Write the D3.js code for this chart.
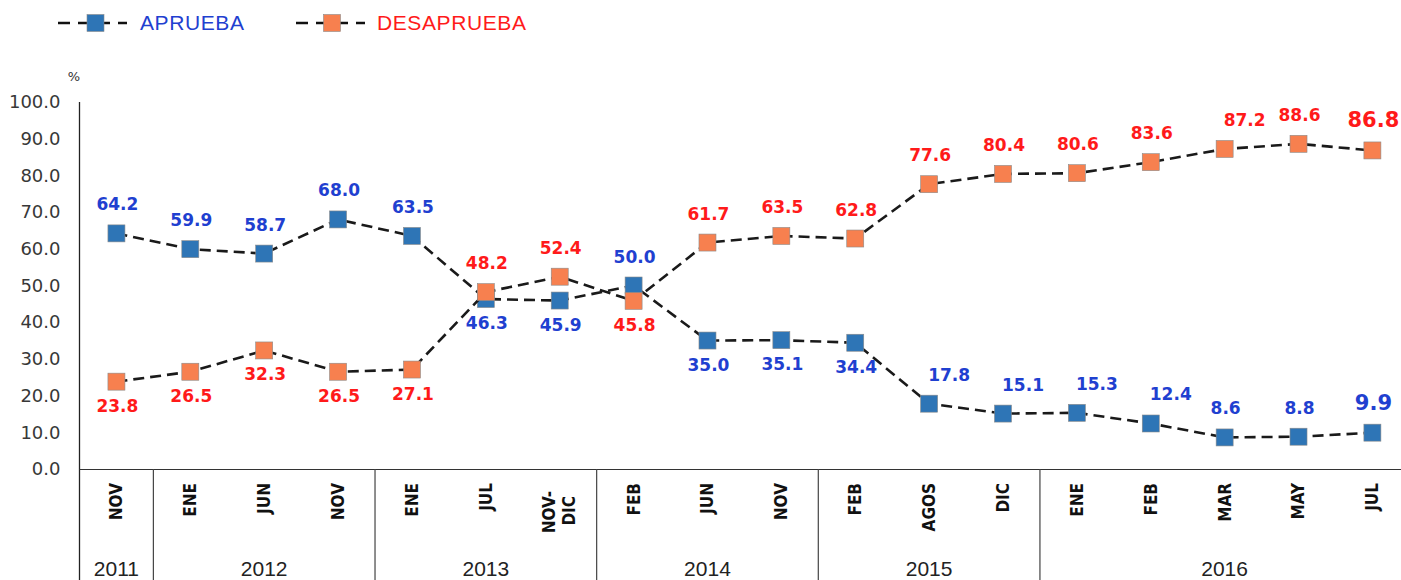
<!DOCTYPE html>
<html>
<head>
<meta charset="utf-8">
<script src="https://cdn.jsdelivr.net/npm/d3@7"></script>
<style>
  body { margin: 0; background: #fff; }
  svg { display: block; }
</style>
</head>
<body>
<svg id="chart"></svg>
<script>
const months = [`NOV`, `ENE`, `JUN`, `NOV`, `ENE`, `JUL`, `NOV-|DIC`, `FEB`, `JUN`, `NOV`, `FEB`, `AGOS`, `DIC`, `ENE`, `FEB`, `MAR`, `MAY`, `JUL`];
const years = [`2011`, `2012`, `2013`, `2014`, `2015`, `2016`];
const yearCounts = [1, 3, 3, 3, 3, 5];
const aprueba = [64.2, 59.9, 58.7, 68.0, 63.5, 46.3, 45.9, 50.0, 35.0, 35.1, 34.4, 17.8, 15.1, 15.3, 12.4, 8.6, 8.8, 9.9];
const desaprueba = [23.8, 26.5, 32.3, 26.5, 27.1, 48.2, 52.4, 45.8, 61.7, 63.5, 62.8, 77.6, 80.4, 80.6, 83.6, 87.2, 88.6, 86.8];
const yTicks = [0, 10, 20, 30, 40, 50, 60, 70, 80, 90, 100];

// a = above, b = below, r = above and to the right
const apruebaLabelPos = [`a`, `a`, `a`, `a`, `a`, `b`, `b`, `a`, `b`, `b`, `b`, `r`, `r`, `r`, `r`, `a`, `a`, `a`];
const desapruebaLabelPos = [`b`, `b`, `b`, `b`, `b`, `a`, `a`, `b`, `a`, `a`, `a`, `a`, `a`, `a`, `a`, `r`, `a`, `a`];

const width = 1401;
const height = 580;
const left = 79.5;
const band = 73.88;
const baseY = 469;

const blueFill = `#2E75B6`;
const orangeFill = `#F7804F`;
const blueText = `#1F40D0`;
const redText = `#FF1A1A`;

const svg = d3.select(`#chart`)
    .attr(`width`, width)
    .attr(`height`, height);

const x = d3.scaleBand()
    .domain(d3.range(months.length))
    .range([left, left + band * months.length]);

const y = d3.scaleLinear()
    .domain([0, 100])
    .range([baseY, 102]);

const cx = i => x(i) + x.bandwidth() / 2;

// y axis labels
const yAxis = d3.axisLeft(y)
    .tickValues(yTicks)
    .tickFormat(d3.format(`.1f`))
    .tickSize(0)
    .tickPadding(19);

const yG = svg.append(`g`)
    .attr(`transform`, `translate(${left}, 0)`)
    .call(yAxis);
yG.select(`.domain`).remove();
yG.selectAll(`text`)
    .attr(`font-family`, `DejaVu Sans, sans-serif`)
    .attr(`font-size`, 18)
    .attr(`fill`, `#383838`);

svg.append(`text`)
    .attr(`x`, 74)
    .attr(`y`, 81)
    .attr(`text-anchor`, `middle`)
    .attr(`font-family`, `DejaVu Sans, sans-serif`)
    .attr(`font-size`, 13)
    .attr(`fill`, `#333`)
    .text(`%`);

// axis lines
svg.append(`line`)
    .attr(`x1`, left).attr(`x2`, left)
    .attr(`y1`, y(100)).attr(`y2`, height)
    .attr(`stroke`, `#222`).attr(`stroke-width`, 1.3);

svg.append(`line`)
    .attr(`x1`, left).attr(`x2`, width)
    .attr(`y1`, baseY + 0.5).attr(`y2`, baseY + 0.5)
    .attr(`stroke`, `#333`).attr(`stroke-width`, 1.2);

// month labels
const xAxis = d3.axisBottom(x)
    .tickSize(0)
    .tickFormat(i => months[i]);

const xG = svg.append(`g`)
    .attr(`transform`, `translate(0, ${baseY})`)
    .call(xAxis);
xG.select(`.domain`).remove();
xG.selectAll(`.tick text`).each(function (i) {
    const t = d3.select(this);
    const lines = months[i].split(`|`);
    t.text(null)
        .attr(`y`, null)
        .attr(`dy`, null)
        .attr(`transform`, `translate(0, 14) rotate(-90)`)
        .attr(`text-anchor`, `end`)
        .attr(`font-family`, `'Liberation Sans Narrow', 'DejaVu Sans Condensed', sans-serif`)
        .attr(`font-weight`, `bold`)
        .attr(`font-size`, 17)
        .attr(`fill`, `#111`);
    if (lines.length === 1) {
        t.append(`tspan`).attr(`x`, 0).attr(`dy`, `0.35em`).text(lines[0]);
    } else {
        t.append(`tspan`).attr(`x`, -8).attr(`y`, 0).attr(`dy`, `-0.25em`).text(lines[0]);
        t.append(`tspan`).attr(`x`, -13).attr(`y`, 0).attr(`dy`, `0.92em`).text(lines[1]);
    }
});

// year groups
const yearStarts = yearCounts.map((c, k) => d3.sum(yearCounts.slice(0, k)));

svg.selectAll(`.sep`)
    .data(yearStarts.slice(1))
    .enter()
    .append(`line`)
    .attr(`class`, `sep`)
    .attr(`x1`, s => x(s)).attr(`x2`, s => x(s))
    .attr(`y1`, baseY).attr(`y2`, height)
    .attr(`stroke`, `#444`).attr(`stroke-width`, 1.2);

svg.selectAll(`.year`)
    .data(years)
    .enter()
    .append(`text`)
    .attr(`class`, `year`)
    .attr(`x`, (d, k) => (x(yearStarts[k]) + x(yearStarts[k]) + yearCounts[k] * x.bandwidth()) / 2)
    .attr(`y`, 576)
    .attr(`text-anchor`, `middle`)
    .attr(`font-family`, `Liberation Sans, sans-serif`)
    .attr(`font-size`, 21)
    .attr(`fill`, `#222`)
    .text(d => d);

// series
const line = d3.line()
    .x((d, i) => cx(i))
    .y(d => y(d));

const drawSeries = (values, fill, textColor, placement) => {
    svg.append(`path`)
        .datum(values)
        .attr(`d`, line)
        .attr(`fill`, `none`)
        .attr(`stroke`, `#1a1a1a`)
        .attr(`stroke-width`, 2.6)
        .attr(`stroke-dasharray`, `11,6`);

    svg.append(`g`).selectAll(`rect`)
        .data(values)
        .enter()
        .append(`rect`)
        .attr(`x`, (d, i) => cx(i) - 8.5)
        .attr(`y`, d => y(d) - 8.5)
        .attr(`width`, 17)
        .attr(`height`, 17)
        .attr(`fill`, fill)
        .attr(`stroke`, `#8a8a8a`)
        .attr(`stroke-width`, 0.6);

    svg.append(`g`).selectAll(`text`)
        .data(values)
        .enter()
        .append(`text`)
        .attr(`x`, (d, i) => cx(i) + (placement[i] === `r` ? 20 : 1))
        .attr(`y`, (d, i) => y(d) + (placement[i] === `b` ? 30 : -23))
        .attr(`text-anchor`, `middle`)
        .attr(`font-family`, `DejaVu Sans, sans-serif`)
        .attr(`font-weight`, `bold`)
        .attr(`font-size`, (d, i) => i === values.length - 1 ? 21 : 17)
        .attr(`fill`, textColor)
        .text(d => d3.format(`.1f`)(d));
};

drawSeries(aprueba, blueFill, blueText, apruebaLabelPos);
drawSeries(desaprueba, orangeFill, redText, desapruebaLabelPos);

// legend
const legendItems = [
    { name: `APRUEBA`, fill: blueFill, color: blueText, x0: 58, mx: 95.5, tx: 140 },
    { name: `DESAPRUEBA`, fill: orangeFill, color: redText, x0: 296, mx: 332, tx: 377 }
];

const legend = svg.append(`g`).selectAll(`g`)
    .data(legendItems)
    .enter()
    .append(`g`);

legend.append(`line`)
    .attr(`x1`, d => d.x0).attr(`x2`, d => d.x0 + 69)
    .attr(`y1`, 23).attr(`y2`, 23)
    .attr(`stroke`, `#111`)
    .attr(`stroke-width`, 2.6)
    .attr(`stroke-dasharray`, `12,8`);

legend.append(`rect`)
    .attr(`x`, d => d.mx - 8.5)
    .attr(`y`, 14.5)
    .attr(`width`, 17)
    .attr(`height`, 17)
    .attr(`fill`, d => d.fill)
    .attr(`stroke`, `#8a8a8a`)
    .attr(`stroke-width`, 0.6);

legend.append(`text`)
    .attr(`x`, d => d.tx)
    .attr(`y`, 30)
    .attr(`font-family`, `Liberation Sans, sans-serif`)
    .attr(`font-size`, 21)
    .attr(`letter-spacing`, 0.6)
    .attr(`fill`, d => d.color)
    .text(d => d.name);
</script>
</body>
</html>
